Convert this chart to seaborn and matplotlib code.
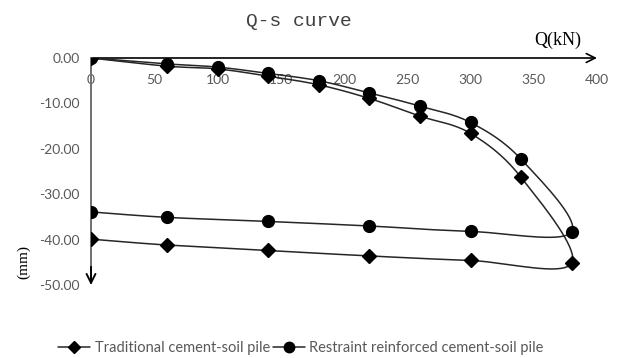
#!/usr/bin/env python3
"""
Q-s curve of two cement-soil piles (loading + unloading)
"""
import numpy as np
import matplotlib
matplotlib.use('Agg')
import matplotlib.pyplot as plt
from matplotlib.lines import Line2D
import seaborn as sns

# loading branch, then unloading branch (380 kN point shared)
q_load = [0, 60, 100, 140, 180, 220, 260, 300, 340, 380]
q_unload = [300, 220, 140, 60, 0]

trad_load = [0, -1.8, -2.4, -4.0, -5.9, -8.9, -12.8, -16.6, -26.3, -45.2]
trad_unload = [-44.6, -43.6, -42.4, -41.2, -39.9]

rest_load = [0, -1.3, -2.0, -3.4, -5.0, -7.7, -10.6, -14.2, -22.3, -38.3]
rest_unload = [-38.2, -37.0, -36.0, -35.1, -33.9]

x_ticks = [0, 50, 100, 150, 200, 250, 300, 350, 400]
y_ticks = [0, -10, -20, -30, -40, -50]

labels = ['Traditional cement-soil pile', 'Restraint reinforced cement-soil pile']


def smooth_path(xs, ys, n=20):
    """Excel-like smoothed line: cubic bezier with catmull-rom control points"""
    p = np.column_stack([xs, ys]).astype(float)
    p_ext = np.vstack([p[0], p, p[-1]])
    t = np.linspace(0, 1, n)[:, None]
    out = [p[:1]]
    for i in range(len(p) - 1):
        p0, p1, p2, p3 = p_ext[i], p_ext[i + 1], p_ext[i + 2], p_ext[i + 3]
        b1 = p1 + (p2 - p0) / 6
        b2 = p2 - (p3 - p1) / 6
        seg = ((1 - t) ** 3) * p1 + 3 * ((1 - t) ** 2) * t * b1 \
            + 3 * (1 - t) * t ** 2 * b2 + t ** 3 * p2
        out.append(seg[1:])
    pts = np.vstack(out)
    return pts[:, 0], pts[:, 1]


sns.set_theme(style='white')
plt.rcParams['font.family'] = ['Lato', 'DejaVu Sans']

fig = plt.figure(figsize=(6.17, 3.58), dpi=100)
ax = fig.add_axes([91 / 617, 1 - 285 / 358, 506 / 617, 227 / 358])

line_col = '#262626'
series = [
    (q_load + q_unload, trad_load + trad_unload, 'D', 7),
    (q_load + q_unload, rest_load + rest_unload, 'o', 8.5),
]
for (qs, ss, mk, ms), lab in zip(series, labels):
    sx, sy = smooth_path(qs, ss)
    sns.lineplot(x=sx, y=sy, sort=False, estimator=None, color=line_col,
                 linewidth=1.1, ax=ax, zorder=3)
    ax.plot(qs, ss, linestyle='none', marker=mk, markersize=ms,
            color='black', zorder=4)

ax.set_xlim(0, 400)
ax.set_ylim(-50, 0)
ax.set_xticks(x_ticks)
ax.set_yticks(y_ticks)
ax.set_yticklabels([f'{v:.2f}' for v in y_ticks])
for sp in ax.spines.values():
    sp.set_visible(False)
ax.patch.set_alpha(0)

ax.tick_params(axis='y', length=0, pad=8, labelsize=10, labelcolor='#595959')
ax.tick_params(axis='x', length=0, top=True, labeltop=True, bottom=False,
               labelbottom=False, pad=-20, labelsize=10, labelcolor='#595959')

# axis arrows: black x axis, grey y axis with black head
ax.annotate('', xy=(400, 0), xytext=(0, 0), annotation_clip=False,
            arrowprops=dict(arrowstyle='->', lw=1.2, color='black',
                            mutation_scale=16, shrinkA=0, shrinkB=0), zorder=2)
ax.plot([0, 0], [0, -49.5], color='#707070', lw=1.4, zorder=2, clip_on=False)
ax.annotate('', xy=(0, -50), xytext=(0, -46), annotation_clip=False,
            arrowprops=dict(arrowstyle='->', lw=1.4, color='black',
                            mutation_scale=16, shrinkA=0, shrinkB=0), zorder=2)

fig.text(299 / 617, 1 - 22 / 358, 'Q-s curve', ha='center', va='center',
         family='Liberation Mono', fontsize=14, color='#404040')
fig.text(558 / 617, 1 - 40 / 358, 'Q(kN)', ha='center', va='center',
         family='Liberation Serif', fontsize=13, color='black')
fig.text(24 / 617, 1 - 262 / 358, '(mm)', ha='center', va='center',
         rotation=90, family='Liberation Serif', fontsize=11, color='black')

handles = [
    Line2D([], [], color=line_col, lw=1.1, marker='D', markersize=6,
           markerfacecolor='black', markeredgecolor='black'),
    Line2D([], [], color=line_col, lw=1.1, marker='o', markersize=7.5,
           markerfacecolor='black', markeredgecolor='black'),
]
fig.legend(handles, labels, loc='center', bbox_to_anchor=(301 / 617, 1 - 348 / 358),
           ncol=2, frameon=False, fontsize=10.5, labelcolor='#595959',
           handlelength=2.2, handletextpad=0.3, columnspacing=0.2)

plt.savefig('out.png', dpi=100)
plt.close()
